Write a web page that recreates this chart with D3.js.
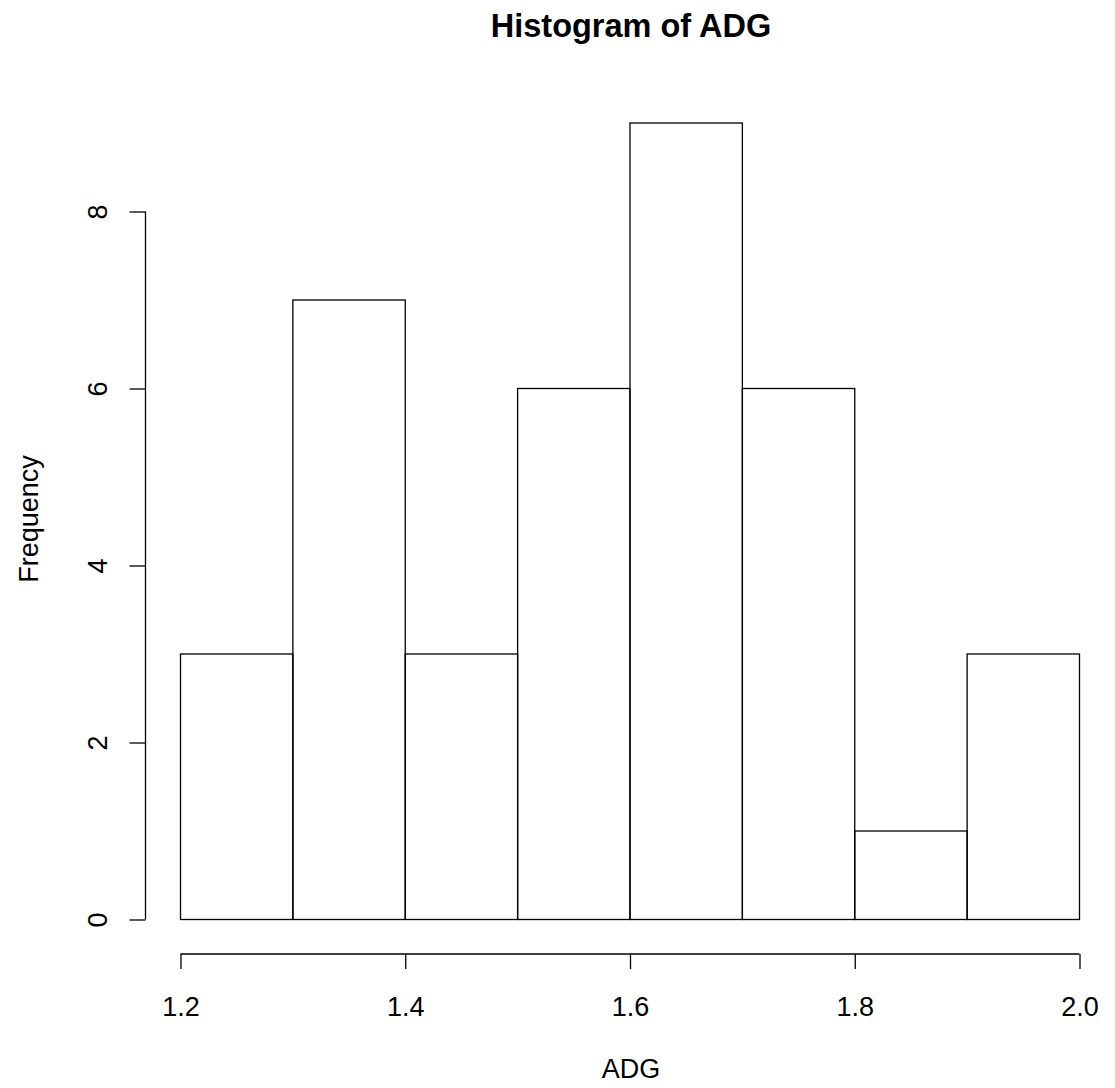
<html>
<script src="https://d3js.org/d3.v7.min.js"></script>
<style>
body {margin: 0; background: white;}
text {font-family: "Liberation Sans", Arial, sans-serif; fill: black;}
</style>
<body>
<svg id="chart"></svg>
<script>
// histogram bins and counts
var binEdges = [1.2, 1.3, 1.4, 1.5, 1.6, 1.7, 1.8, 1.9, 2.0];
var counts = [3, 7, 3, 6, 9, 6, 1, 3];
var xTicks = [1.2, 1.4, 1.6, 1.8, 2.0];
var yTicks = [0, 2, 4, 6, 8];

var width = 1115, height = 1088;
var svg = d3.select("#chart").attr("width", width).attr("height", height);

var x = d3.scaleLinear().domain([1.2, 2.0]).range([180.5, 1079.5]);
var y = d3.scaleLinear().domain([0, 8]).range([919.5, 211.5]);

var bins = counts.map(function(c, i) { return {x0: binEdges[i], x1: binEdges[i + 1], n: c}; });

// bars
svg.append("g").selectAll("rect")
    .data(bins)
    .enter()
    .append("rect")
    .attr("x", function(d) { return x(d.x0); })
    .attr("y", function(d) { return y(d.n); })
    .attr("width", function(d) { return x(d.x1) - x(d.x0); })
    .attr("height", function(d) { return y(0) - y(d.n); })
    .style("fill", "none")
    .style("stroke", "black")
    .style("stroke-width", 1.3);

// x axis
var xAxis = svg.append("g")
    .attr("transform", "translate(0,954)")
    .call(d3.axisBottom(x).tickValues(xTicks).tickFormat(d3.format(".1f")).tickSize(15).tickSizeOuter(0));
xAxis.select(".domain").attr("d", "M" + x(1.2) + ",0H" + x(2.0));
xAxis.selectAll(".tick text").attr("y", 62).attr("dy", null);

// y axis
var yAxis = svg.append("g")
    .attr("transform", "translate(145.5,0)")
    .call(d3.axisLeft(y).tickValues(yTicks).tickSize(16).tickSizeOuter(0));
yAxis.select(".domain").attr("d", "M0," + y(0) + "V" + y(8));
yAxis.selectAll(".tick text")
    .attr("x", 0).attr("dy", null)
    .attr("transform", "translate(-39,0) rotate(-90)")
    .style("text-anchor", "middle");

svg.selectAll(".domain, .tick line").style("stroke", "black").style("stroke-width", 1.3);
svg.selectAll(".tick text").style("font-size", "27px").style("fill", "black");

// titles
svg.append("text")
    .attr("x", 631).attr("y", 37)
    .style("text-anchor", "middle")
    .style("font-size", "32.5px").style("font-weight", "bold")
    .text("Histogram of ADG");

svg.append("text")
    .attr("x", 631).attr("y", 1078)
    .style("text-anchor", "middle")
    .style("font-size", "27px")
    .text("ADG");

svg.append("text")
    .attr("transform", "translate(38,519) rotate(-90)")
    .style("text-anchor", "middle")
    .style("font-size", "27px")
    .text("Frequency");
</script>
</body>
</html>
